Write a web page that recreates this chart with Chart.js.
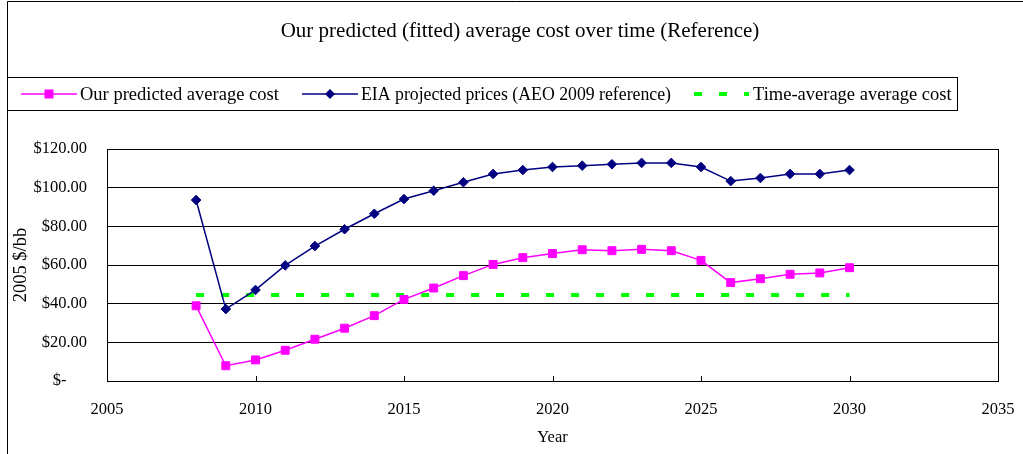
<!DOCTYPE html>
<html><head><meta charset="utf-8">
<script src="https://cdn.jsdelivr.net/npm/chart.js@4.4.0/dist/chart.umd.min.js"></script>
<style>html,body{margin:0;padding:0;background:#fff;overflow:hidden}#wrap{width:1023px;height:454px;position:relative}</style>
</head><body><div id="wrap"><canvas id="c" width="1023" height="454"></canvas></div>
<script>
const titleText = 'Our predicted (fitted) average cost over time (Reference)';
const seriesNames = ['Our predicted average cost', 'EIA projected prices (AEO 2009 reference)', 'Time-average average cost'];
const years = [2008,2009,2010,2011,2012,2013,2014,2015,2016,2017,2018,2019,2020,2021,2022,2023,2024,2025,2026,2027,2028,2029,2030];
const predictedCost = [38.9,7.9,10.9,15.9,21.6,27.3,33.8,42.2,48.1,54.5,60.3,63.8,65.9,67.9,67.4,68.1,67.4,62.4,50.9,52.9,55.2,55.9,58.6];
const eiaPrices = [93.6,37.2,47.1,59.8,69.8,78.5,86.5,94.1,98.4,102.8,107.1,109.1,110.7,111.4,112.1,112.8,112.8,110.7,103.4,105.0,107.1,107.1,109.1];
const timeAverageYears = [2008, 2030];
const timeAverageCost = [44.5, 44.5];
const xTicks = [2005, 2010, 2015, 2020, 2025, 2030, 2035];
const yTicks = [0, 20, 40, 60, 80, 100, 120];
const xTitle = 'Year';
const yTitle = '2005 $/bb';

const FONT = '"Liberation Serif", "Times New Roman", serif';
const PINK = '#FF00FF', NAVY = '#000080', GREEN = '#00FF00';

const pts = (xs, ys) => xs.map((x, i) => ({x: x, y: ys[i]}));

function yLabel(v) {
  return v === 0 ? '$-     ' : '$' + v.toFixed(2);
}

const decorPlugin = {
  id: 'decor',
  afterDraw(chart) {
    const ctx = chart.ctx;
    const a = chart.chartArea;
    ctx.save();
    ctx.strokeStyle = '#000';
    ctx.lineWidth = 1;
    ctx.beginPath();
    ctx.moveTo(7.5, 454);
    ctx.lineTo(7.5, 1.5);
    ctx.lineTo(1023, 1.5);
    ctx.stroke();
    ctx.strokeRect(Math.round(a.left) + 0.5, Math.round(a.top) + 0.5, Math.round(a.right - a.left), Math.round(a.bottom - a.top));
    const xs = chart.scales.x;
    ctx.beginPath();
    xTicks.forEach(v => {
      const px = Math.round(xs.getPixelForValue(v)) + 0.5;
      ctx.moveTo(px, a.bottom);
      ctx.lineTo(px, a.bottom - 5);
    });
    ctx.stroke();
    ctx.fillStyle = '#000';
    ctx.font = '21px ' + FONT;
    ctx.textAlign = 'center';
    ctx.textBaseline = 'middle';
    ctx.fillText(titleText, 520, 31);
    // legend
    ctx.font = '18.5px ' + FONT;
    ctx.textAlign = 'left';
    const ly = 94;
    const starts = [21, 302, 694];
    const symW = 56;
    const gapTxt = 3;
    seriesNames.forEach((name, i) => {
      const sx = starts[i];
      ctx.save();
      if (i === 0) {
        ctx.strokeStyle = PINK; ctx.lineWidth = 1.5;
        ctx.beginPath(); ctx.moveTo(sx, ly); ctx.lineTo(sx + symW, ly); ctx.stroke();
        ctx.fillStyle = PINK;
        ctx.fillRect(sx + symW / 2 - 4.5, ly - 4.5, 9, 9);
      } else if (i === 1) {
        ctx.strokeStyle = NAVY; ctx.lineWidth = 1.5;
        ctx.beginPath(); ctx.moveTo(sx, ly); ctx.lineTo(sx + symW, ly); ctx.stroke();
        ctx.fillStyle = NAVY;
        const cx = sx + symW / 2;
        ctx.beginPath();
        ctx.moveTo(cx - 5, ly); ctx.lineTo(cx, ly - 5); ctx.lineTo(cx + 5, ly); ctx.lineTo(cx, ly + 5);
        ctx.closePath(); ctx.fill();
      } else {
        ctx.strokeStyle = GREEN; ctx.lineWidth = 4;
        ctx.setLineDash([8, 17]);
        ctx.beginPath(); ctx.moveTo(sx, ly); ctx.lineTo(sx + symW - 1, ly); ctx.stroke();
      }
      ctx.restore();
      ctx.fillStyle = '#000';
      const tx = sx + symW + gapTxt;
      const maxW = i === 1 ? 310 : undefined;
      if (maxW) ctx.fillText(name, tx, ly + 1, maxW); else ctx.fillText(name, tx, ly + 1);
    });
    ctx.strokeStyle = '#000';
    ctx.lineWidth = 1;
    ctx.strokeRect(7.5, 77.5, 950, 33);
    ctx.restore();
  }
};

new Chart(document.getElementById('c'), {
  type: 'line',
  data: {
    datasets: [
      {
        label: seriesNames[0],
        data: pts(years, predictedCost),
        borderColor: PINK, backgroundColor: PINK,
        borderWidth: 1.5,
        pointStyle: 'rect', pointRadius: 5.6, pointBorderWidth: 1,
        pointBackgroundColor: PINK, pointBorderColor: PINK,
        tension: 0, order: 2
      },
      {
        label: seriesNames[1],
        data: pts(years, eiaPrices),
        borderColor: NAVY, backgroundColor: NAVY,
        borderWidth: 1.5,
        pointStyle: 'rectRot', pointRadius: 4.8, pointBorderWidth: 1,
        pointBackgroundColor: NAVY, pointBorderColor: NAVY,
        tension: 0, order: 1
      },
      {
        label: seriesNames[2],
        data: pts(timeAverageYears, timeAverageCost),
        borderColor: GREEN, backgroundColor: GREEN,
        borderWidth: 4, borderDash: [8, 17],
        pointRadius: 0, tension: 0, order: 3
      }
    ]
  },
  options: {
    responsive: false,
    animation: false,
    devicePixelRatio: 1,
    layout: { padding: { top: 149, right: 25, left: 0, bottom: 0 } },
    plugins: {
      legend: { display: false },
      title: { display: false },
      tooltip: { enabled: false }
    },
    scales: {
      x: {
        type: 'linear',
        min: 2005, max: 2035,
        afterBuildTicks: s => { s.ticks = xTicks.map(v => ({value: v})); },
        afterFit: s => { s.height = 73; s.paddingRight = 0; s.paddingLeft = 0; },
        grid: { display: false, drawTicks: false },
        border: { display: true, color: '#000', width: 1 },
        ticks: {
          color: '#000', padding: 19,
          font: { family: FONT, size: 16.5 },
          callback: v => String(v), maxRotation: 0, autoSkip: false
        },
        title: {
          display: true, text: xTitle, color: '#000',
          font: { family: FONT, size: 16.5 },
          padding: { top: 0, bottom: 6 }
        }
      },
      y: {
        min: 0, max: 120,
        afterBuildTicks: s => { s.ticks = yTicks.map(v => ({value: v})); },
        afterFit: s => { s.width = 107; s.paddingTop = 0; s.paddingBottom = 0; },
        grid: { color: '#000', lineWidth: 1, drawTicks: false },
        border: { display: true, color: '#000', width: 1 },
        ticks: {
          color: '#000', padding: 20,
          font: { family: FONT, size: 16.5 },
          callback: v => yLabel(v)
        },
        title: {
          display: true, text: yTitle, color: '#000',
          font: { family: FONT, size: 18.5 },
          padding: { top: 10, bottom: 0 }
        }
      }
    }
  },
  plugins: [decorPlugin]
});
</script>
</body></html>
